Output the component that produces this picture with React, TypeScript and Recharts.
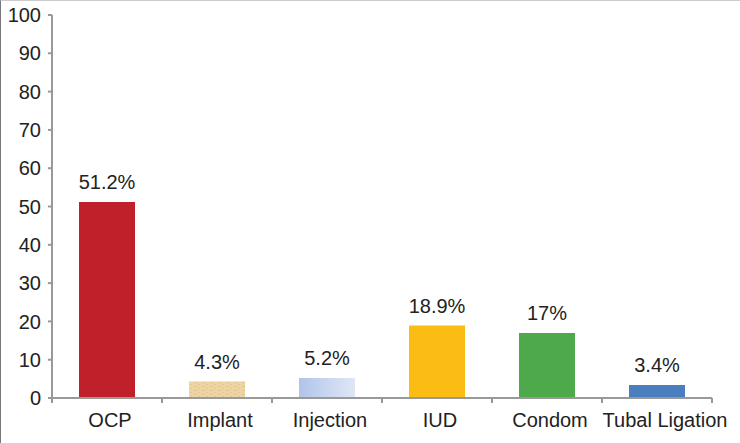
import React from 'react';
import { BarChart, Bar, XAxis, YAxis, Cell, LabelList } from 'recharts';

const methods = ['OCP', 'Implant', 'Injection', 'IUD', 'Condom', 'Tubal Ligation'];
const shares = [51.2, 4.3, 5.2, 18.9, 17, 3.4];
const shareLabels = ['51.2%', '4.3%', '5.2%', '18.9%', '17%', '3.4%'];
const yTicks = [0, 10, 20, 30, 40, 50, 60, 70, 80, 90, 100];
const fills = ['#c0202a', 'url(#implantTex)', 'url(#injectionGrad)', '#fbbd13', '#4ea94a', '#4a7ebf'];

const W = 739;
const H = 442;
const MARGIN = { top: 14, right: 28, left: 0, bottom: 0 };
const Y_W = 51;
const FONT = '"Liberation Sans", Arial, sans-serif';
const FS = 20;

const data = methods.map((name, i) => ({ name, value: shares[i], label: shareLabels[i] }));

// half of a category band, used for the boundary tick marks
const halfBand = (W - MARGIN.left - MARGIN.right - Y_W) / methods.length / 2;

const CategoryTick = (props: any) => {
  const { x, y, payload, index } = props;
  const last = index === methods.length - 1;
  return (
    <g>
      <line x1={x - halfBand} x2={x - halfBand} y1={y} y2={y + 5} stroke="#999" strokeWidth={2} />
      {last && <line x1={x + halfBand} x2={x + halfBand} y1={y} y2={y + 5} stroke="#999" strokeWidth={2} />}
      <text x={x + (last ? 8 : 3)} y={y + 29} textAnchor="middle" fill="#222" fontSize={FS} fontFamily={FONT}>
        {payload.value}
      </text>
    </g>
  );
};

export default function App() {
  return (
    <div
      style={{
        position: 'absolute',
        left: 0,
        top: 0,
        width: 740,
        height: 443,
        boxSizing: 'border-box',
        borderLeft: '1px solid #777',
        borderTop: '1px solid #ccc',
        background: '#fff',
      }}
    >
      <BarChart width={W} height={H} data={data} margin={MARGIN}>
        <defs>
          <pattern id="implantTex" width="8" height="4" patternUnits="userSpaceOnUse">
            <rect width="8" height="4" fill="#ecd4a4" />
            <rect x="1" y="1" width="3" height="1" fill="#e2c58e" />
            <rect x="5" y="3" width="2" height="1" fill="#e6ca96" />
          </pattern>
          <linearGradient id="injectionGrad" x1="0" y1="0" x2="1" y2="0">
            <stop offset="0%" stopColor="#b0c4ea" />
            <stop offset="100%" stopColor="#dfe7f6" />
          </linearGradient>
        </defs>
        <XAxis
          dataKey="name"
          height={45}
          tickLine={false}
          tickSize={0}
          tickMargin={0}
          axisLine={{ stroke: '#999', strokeWidth: 2 }}
          tick={<CategoryTick />}
          interval={0}
        />
        <YAxis
          width={Y_W}
          domain={[0, 100]}
          ticks={yTicks}
          interval={0}
          tickSize={4}
          tickMargin={7}
          axisLine={{ stroke: '#999', strokeWidth: 2 }}
          tickLine={{ stroke: '#999', strokeWidth: 2 }}
          tick={{ fill: '#222', fontSize: FS, fontFamily: FONT }}
        />
        <Bar dataKey="value" barSize={56} isAnimationActive={false}>
          {data.map((d, i) => (
            <Cell key={d.name} fill={fills[i]} />
          ))}
          <LabelList dataKey="label" position="top" offset={13} fill="#222" fontSize={FS} fontFamily={FONT} />
        </Bar>
      </BarChart>
    </div>
  );
}
